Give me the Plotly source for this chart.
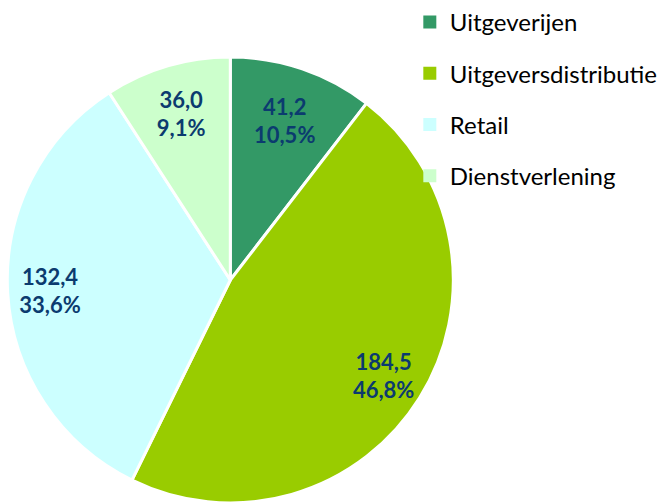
import plotly.graph_objects as go

categories = ["Uitgeverijen", "Uitgeversdistributie", "Retail", "Dienstverlening"]
values = [41.2, 184.5, 132.4, 36.0]
value_labels = ["41,2", "184,5", "132,4", "36,0"]
pct_labels = ["10,5%", "46,8%", "33,6%", "9,1%"]
colors = ["#339966", "#99CC00", "#CCFFFF", "#CCFFCC"]

texts = [f"<b>{v}<br>{p}</b>" for v, p in zip(value_labels, pct_labels)]
domain = dict(x=[7/663, 455/663], y=[0, 446/503])
total = sum(values)
small = [v / total < 0.2 for v in values]

fig = go.Figure()
fig.add_trace(go.Pie(
    labels=categories, values=values, sort=False, direction="clockwise",
    rotation=0, textinfo="none",
    marker=dict(colors=colors, line=dict(color="white", width=3)),
    showlegend=False, hoverinfo="label+value+percent",
    domain=domain,
))
# transparent rings carrying the labels, so they sit near the outer edge
for hole, pick in [(0.45, True), (0.62, False)]:
    fig.add_trace(go.Pie(
        labels=categories, values=values, sort=False, direction="clockwise",
        rotation=0, hole=hole,
        text=[t if s == pick else "" for t, s in zip(texts, small)],
        textinfo="text", textposition="inside",
        insidetextorientation="horizontal",
        textfont=dict(family="Lato, Open Sans, sans-serif", size=22, color="#0B3B6F"),
        marker=dict(colors=["rgba(0,0,0,0)"] * 4, line=dict(width=0)),
        showlegend=False, hoverinfo="skip",
        domain=domain,
    ))

for i, (c, col) in enumerate(zip(categories, colors)):
    fig.add_trace(go.Scatter(
        x=[None], y=[None], mode="markers", name=c,
        marker=dict(symbol="square", size=13, color=col),
        legendgroup=f"g{i}", showlegend=True,
    ))

fig.update_layout(
    width=663, height=503, margin=dict(l=0, r=0, t=0, b=0),
    paper_bgcolor="white", plot_bgcolor="white",
    xaxis=dict(visible=False), yaxis=dict(visible=False),
    font=dict(family="Lato, Open Sans, sans-serif"),
    legend=dict(x=0.62, y=1.0, xanchor="left", yanchor="top",
                font=dict(size=24, color="black"), tracegroupgap=17,
                itemwidth=30, bgcolor="rgba(0,0,0,0)"),
)

fig.write_html("out.html")
